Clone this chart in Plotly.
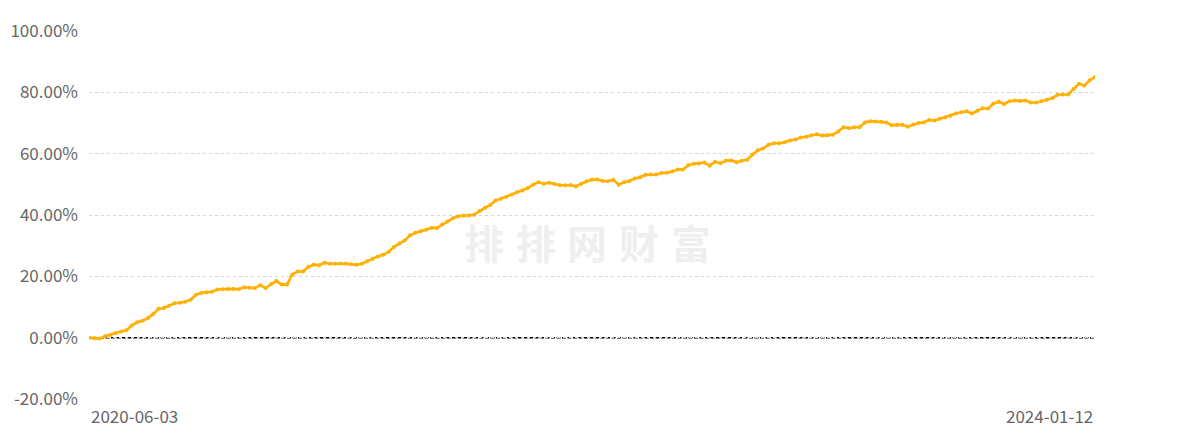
import plotly.graph_objects as go
import pandas as pd

# weekly dates: first point 2020-06-03, then Fridays up to 2024-01-12
dates = ["2020-06-03"] + [d.strftime("%Y-%m-%d") for d in pd.date_range("2020-06-12", "2024-01-12", freq="W-FRI")]

# cumulative return (%)
returns = [
    0.0, -0.2, -0.3, 0.5, 0.9, 1.5, 2.0, 2.4, 4.0, 5.0,
    5.5, 6.4, 7.7, 9.4, 9.7, 10.4, 11.2, 11.4, 11.7, 12.4,
    14.0, 14.6, 14.8, 15.0, 15.7, 15.8, 15.9, 15.9, 15.8, 16.4,
    16.3, 16.2, 17.1, 16.2, 17.4, 18.5, 17.3, 17.3, 20.6, 21.6,
    21.6, 23.1, 23.8, 23.6, 24.4, 24.1, 24.1, 24.2, 24.1, 23.9,
    23.8, 24.1, 24.9, 25.7, 26.5, 27.0, 28.0, 29.6, 30.7, 31.7,
    33.4, 34.2, 34.7, 35.2, 35.8, 35.8, 36.9, 37.9, 38.9, 39.6,
    39.8, 39.8, 40.1, 41.3, 42.4, 43.3, 44.7, 45.3, 45.9, 46.7,
    47.4, 48.0, 48.8, 49.9, 50.7, 50.2, 50.5, 50.1, 49.7, 49.7,
    49.8, 49.3, 50.2, 51.0, 51.5, 51.6, 51.1, 51.0, 51.5, 49.9,
    50.7, 51.1, 51.9, 52.3, 53.1, 53.2, 53.2, 53.7, 53.8, 54.2,
    54.8, 54.8, 56.2, 56.7, 56.8, 57.1, 56.1, 57.4, 56.9, 57.7,
    57.8, 57.2, 57.7, 58.0, 59.7, 61.1, 61.7, 62.9, 63.4, 63.4,
    63.7, 64.3, 64.6, 65.3, 65.5, 66.0, 66.3, 65.9, 66.0, 66.2,
    67.2, 68.6, 68.3, 68.6, 68.6, 70.2, 70.6, 70.5, 70.4, 70.2,
    69.3, 69.4, 69.4, 68.8, 69.5, 70.0, 70.2, 71.0, 70.8, 71.4,
    71.8, 72.4, 73.1, 73.5, 73.8, 73.1, 74.0, 74.8, 74.7, 76.3,
    76.9, 76.2, 77.1, 77.3, 77.2, 77.3, 76.7, 76.7, 77.1, 77.6,
    78.1, 79.2, 79.3, 79.3, 81.1, 82.8, 82.2, 83.9, 85.0,
]

y_ticks = [-20, 0, 20, 40, 60, 80, 100]
y_tick_text = [f"{v:.2f}%" for v in y_ticks]
x_labels = ["2020-06-03", "2024-01-12"]
watermark = ["排", "排", "网", "财", "富"]

font_family = "Noto Sans CJK SC, Noto Sans, sans-serif"
line_color = "#FFB000"
label_color = "#666666"

fig = go.Figure()
fig.add_trace(go.Scatter(
    x=list(range(len(returns))), y=returns, mode="lines+markers",
    line=dict(color=line_color, width=2.6),
    marker=dict(color=line_color, size=4),
    hoverinfo="skip", showlegend=False,
    customdata=dates,
))

# zero reference line
fig.add_shape(type="line", xref="paper", x0=0, x1=1, yref="y", y0=0, y1=0,
              line=dict(color="#000000", width=1.5, dash="4px,1.5px"), layer="below")

# x labels: first aligned left, last aligned right
fig.add_annotation(x=0, xref="paper", y=0, yref="paper", yanchor="middle", xanchor="left",
                   yshift=-16, text=x_labels[0], showarrow=False,
                   font=dict(family=font_family, size=17, color=label_color))
fig.add_annotation(x=1, xref="paper", y=0, yref="paper", yanchor="middle", xanchor="right",
                   yshift=-16, text=x_labels[1], showarrow=False,
                   font=dict(family=font_family, size=17, color=label_color))

# watermark
for i, ch in enumerate(watermark):
    fig.add_annotation(x=0.3928 + i * 0.0513, xref="paper", y=0.427, yref="paper",
                       text=f"<b>{ch}</b>", showarrow=False,
                       font=dict(family=font_family, size=40, color="#EFEFEF"))

fig.update_layout(
    width=1200, height=433,
    margin=dict(l=89, r=105, t=31, b=34),
    paper_bgcolor="white", plot_bgcolor="white",
    font=dict(family=font_family),
    xaxis=dict(range=[0, len(returns) - 1], showticklabels=False, showgrid=False,
               zeroline=False, showline=False, ticks="", automargin=False),
    yaxis=dict(range=[-20, 100], tickvals=y_ticks, ticktext=y_tick_text,
               showgrid=True, gridcolor="#D6D6D6", griddash="3px,3px", gridwidth=1,
               zeroline=False, showline=False, ticks="", ticklabelstandoff=10,
               automargin=False,
               tickfont=dict(family=font_family, size=17, color=label_color)),
)

# remove the default page margin so the 1200x433 figure fills the window exactly
fig.write_html("out.html", config={"displayModeBar": False},
               post_script="document.body.style.margin='0';document.body.style.overflow='hidden';")
